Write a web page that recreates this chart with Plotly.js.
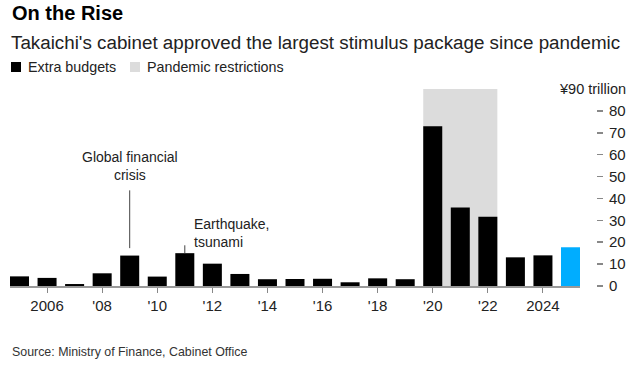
<!DOCTYPE html>
<html>
<head>
<meta charset="utf-8">
<script src="https://cdn.plot.ly/plotly-3.0.1.min.js"></script>
<style>
html,body{margin:0;padding:0;background:#fff;}
#chart{width:636px;height:366px;}
</style>
</head>
<body>
<div id="chart"></div>
<script>
// ---- data ----
const years = [2005,2006,2007,2008,2009,2010,2011,2012,2013,2014,2015,2016,2017,2018,2019,2020,2021,2022,2023,2024,2025];
const extraBudgets = [4.4,3.7,0.9,5.8,13.9,4.3,15.0,10.2,5.5,3.1,3.2,3.3,1.7,3.5,3.1,73.0,35.9,31.6,13.1,14.0,17.7];
const tickYears = [2006,2008,2010,2012,2014,2016,2018,2020,2022,2024];
const tickLabels = ["2006","'08","'10","'12","'14","'16","'18","'20","'22","2024"];
const yTicks = [0,10,20,30,40,50,60,70,80];
const pandemicYears = [2020,2022];
const callouts = [
  {year:2009, text:"Global financial<br>crisis"},
  {year:2011, text:"Earthquake,<br>tsunami"}
];

// ---- layout helpers (pixel -> paper) ----
const W=636,H=366, ML=10, MR=20, MT=89, MB=80;
const PW=W-ML-MR, PH=H-MT-MB;
const px=x=>(x-ML)/PW;
const py=y=>(H-MB-y)/PH;
const bargap=0.31, half=(1-bargap)/2;

const colors = extraBudgets.map((v,i)=> i===years.length-1 ? '#00adff' : '#000000');
const FONT='Liberation Sans, Arial, sans-serif';

const trace = {
  type:'bar', x:years, y:extraBudgets,
  marker:{color:colors, line:{width:0}},
  hoverinfo:'x+y', showlegend:false
};

const shapes = [
  {type:'rect', xref:'x', yref:'y', x0:pandemicYears[0]-half, x1:pandemicYears[1]+half, y0:0, y1:90,
   fillcolor:'#dcdcdc', line:{width:0}, layer:'below'},
  // callout lines
  {type:'line', xref:'x', yref:'y', x0:callouts[0].year, x1:callouts[0].year, y0:extraBudgets[years.indexOf(callouts[0].year)]+3.4, y1:43.7, line:{color:'#444', width:1}},
  {type:'line', xref:'x', yref:'y', x0:callouts[1].year, x1:callouts[1].year, y0:extraBudgets[years.indexOf(callouts[1].year)], y1:18.6, line:{color:'#444', width:1}},
  // legend squares
  {type:'rect', xref:'paper', yref:'paper', x0:px(11), x1:px(21), y0:py(72), y1:py(62), fillcolor:'#000', line:{width:0}},
  {type:'rect', xref:'paper', yref:'paper', x0:px(130), x1:px(140), y0:py(72), y1:py(62), fillcolor:'#dcdcdc', line:{width:0}}
];

const annotations = [
  {xref:'paper', yref:'paper', x:px(10), y:py(13), xanchor:'left', yanchor:'middle', showarrow:false,
   text:'<b>On the Rise</b>', font:{family:FONT, size:20, color:'#000'}},
  {xref:'paper', yref:'paper', x:px(9), y:py(42), xanchor:'left', yanchor:'middle', showarrow:false,
   text:"Takaichi's cabinet approved the largest stimulus package since pandemic", font:{family:FONT, size:18.8, color:'#222'}},
  {xref:'paper', yref:'paper', x:px(26), y:py(67), xanchor:'left', yanchor:'middle', showarrow:false,
   text:'Extra budgets', font:{family:FONT, size:14.3, color:'#222'}},
  {xref:'paper', yref:'paper', x:px(145), y:py(67), xanchor:'left', yanchor:'middle', showarrow:false,
   text:'Pandemic restrictions', font:{family:FONT, size:14.3, color:'#222'}},
  {xref:'paper', yref:'paper', x:px(10), y:py(352), xanchor:'left', yanchor:'middle', showarrow:false,
   text:'Source: Ministry of Finance, Cabinet Office', font:{family:FONT, size:12.4, color:'#333'}},
  {xref:'paper', yref:'y', x:px(628), y:90, xanchor:'right', yanchor:'middle', showarrow:false,
   text:'¥90 trillion', font:{family:FONT, size:14.5, color:'#222'}},
  {xref:'x', yref:'y', x:callouts[0].year, y:54.9, xanchor:'center', yanchor:'middle', showarrow:false,
   text:callouts[0].text, font:{family:FONT, size:14, color:'#222'}},
  {xref:'paper', yref:'y', x:px(192), y:24.1, xanchor:'left', yanchor:'middle', showarrow:false, align:'left',
   text:callouts[1].text, font:{family:FONT, size:14, color:'#222'}}
];

const layout = {
  width:W, height:H,
  margin:{l:ML, r:MR, t:MT, b:MB, pad:0},
  paper_bgcolor:'#fff', plot_bgcolor:'rgba(0,0,0,0)',
  bargap:bargap,
  font:{family:FONT, color:'#222'},
  xaxis:{
    domain:[0, (580-ML)/PW],
    range:[years[0]-half, years[years.length-1]+half],
    tickvals:tickYears, ticktext:tickLabels,
    ticks:'outside', ticklen:5, tickwidth:1, tickcolor:'#888',
    showline:true, linecolor:'#999', linewidth:1.5,
    showgrid:false, zeroline:false, fixedrange:true,
    tickfont:{family:FONT, size:15, color:'#222'}, automargin:false
  },
  yaxis:{
    side:'right', anchor:'free', position:px(596),
    range:[0,90], tickvals:yTicks,
    ticks:'outside', ticklen:6, tickwidth:1.5, tickcolor:'#888',
    ticklabelstandoff:3,
    showline:false, showgrid:false, zeroline:false, fixedrange:true,
    tickfont:{family:FONT, size:15, color:'#222'}, automargin:false
  },
  shapes:shapes, annotations:annotations
};

Plotly.newPlot('chart',[trace],layout,{displayModeBar:false, staticPlot:true});
</script>
</body>
</html>
